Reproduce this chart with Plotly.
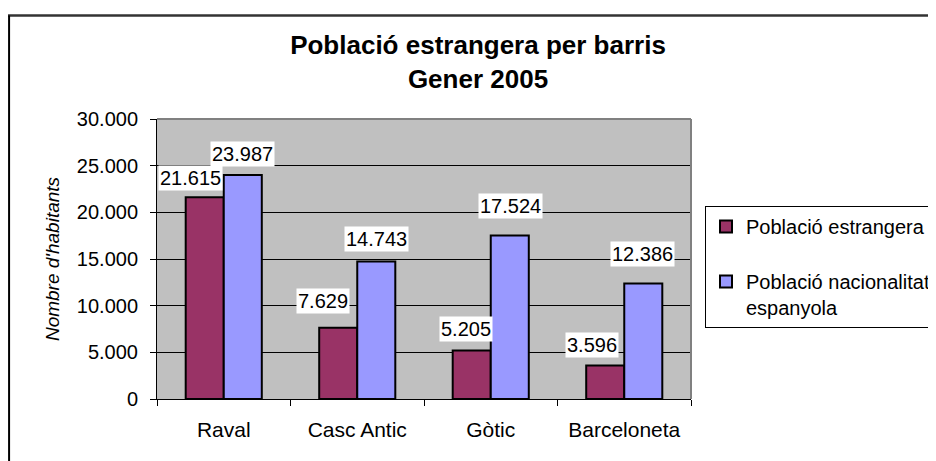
import plotly.graph_objects as go

categories = ["Raval", "Casc Antic", "Gòtic", "Barceloneta"]
estrangera = [21615, 7629, 5205, 3596]
espanyola = [23987, 14743, 17524, 12386]
series_names = ["Població estrangera", "Població nacionalitat<br>espanyola"]
y_ticks = [0, 5000, 10000, 15000, 20000, 25000, 30000]

FONT = "Arial, Liberation Sans, sans-serif"
col_est = "#993366"
col_esp = "#9999FF"

fig = go.Figure()
fig.add_trace(go.Bar(x=categories, y=estrangera, name=series_names[0],
                     marker=dict(color=col_est, line=dict(color="black", width=2)),
                     legendgroup="a"))
fig.add_trace(go.Bar(x=categories, y=espanyola, name=series_names[1],
                     marker=dict(color=col_esp, line=dict(color="black", width=2)),
                     legendgroup="b"))

# label placement styles (pixel shifts)
est_shift = [(-33, 6), (-34, 14), (-25, 8), (-32, 7)]
esp_shift = [(19, 8), (19, 9), (20, 16), (18, 16)]

def fmt(v):
    return f"{v:,}".replace(",", ".")

annotations = []
for vals, shifts in ((estrangera, est_shift), (espanyola, esp_shift)):
    for c, v, (dx, dy) in zip(categories, vals, shifts):
        annotations.append(dict(x=c, y=v, xref="x", yref="y", text=fmt(v),
                                showarrow=False, xanchor="center", yanchor="bottom",
                                xshift=dx, yshift=dy, bgcolor="white",
                                borderpad=1,
                                font=dict(family=FONT, size=20, color="black")))

# the page body adds an 8px offset; margins compensate for it
fig.update_layout(
    width=936, height=461,
    margin=dict(l=149, r=253, t=111, b=70, autoexpand=False),
    paper_bgcolor="white", plot_bgcolor="#C0C0C0",
    separators=",.",
    barmode="group", bargap=0.43, bargroupgap=0,
    font=dict(family=FONT, size=20, color="black"),
    title=dict(text="<b>Població estrangera per barris<br>Gener 2005</b>",
               x=470 / 936, xanchor="center", xref="container",
               y=1 - 46 / 461, yanchor="top", yref="container",
               font=dict(family=FONT, size=26, color="black")),
    legend=dict(x=(697 - 149) / 534, y=(391 - 198) / 280,
                xanchor="left", yanchor="top",
                bordercolor="black", borderwidth=1, bgcolor="white",
                font=dict(family=FONT, size=20, color="black"),
                tracegroupgap=26, valign="top", traceorder="grouped"),
    annotations=annotations,
    shapes=[
        # outer chart frame (top and left edges visible)
        dict(type="line", xref="paper", yref="paper", x0=-0.279, x1=1.5,
             y0=1.37, y1=1.37, line=dict(color="#333333", width=2.5), layer="above"),
        dict(type="line", xref="paper", yref="paper", x0=-0.277, x1=-0.277,
             y0=-0.5, y1=1.37, line=dict(color="black", width=2), layer="above"),
        # plot area border (top/right in gray)
        dict(type="line", xref="paper", yref="paper", x0=0, x1=1, y0=1, y1=1,
             line=dict(color="#808080", width=2)),
        dict(type="line", xref="paper", yref="paper", x0=1, x1=1, y0=0, y1=1,
             line=dict(color="#808080", width=2)),
    ],
)
fig.update_yaxes(range=[0, 30000], tickvals=y_ticks, tickformat=",d",
                 showgrid=True, gridcolor="black", gridwidth=1,
                 ticks="outside", ticklen=6, tickcolor="black",
                 showline=True, linecolor="black", linewidth=1,
                 ticklabelstandoff=8, zeroline=False,
                 tickfont=dict(family=FONT, size=20),
                 title=dict(text="<i>Nombre d'habitants</i>", standoff=12,
                            font=dict(family=FONT, size=19)))
fig.update_xaxes(tickson="boundaries", ticks="outside", ticklen=6, tickcolor="black",
                 showline=True, linecolor="black", linewidth=1,
                 ticklabelstandoff=12, tickfont=dict(family=FONT, size=21))

fig.write_html("out.html")
